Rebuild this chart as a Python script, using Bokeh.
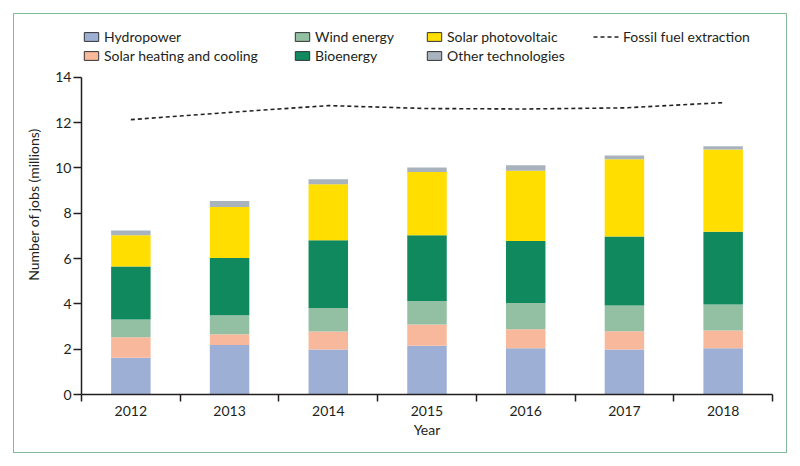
from bokeh.plotting import figure
from bokeh.models import (Range1d, FixedTicker, Legend, LegendItem, ColumnDataSource,
                          InlineStyleSheet)
from bokeh.embed import file_html
from bokeh.resources import INLINE

years = [2012, 2013, 2014, 2015, 2016, 2017, 2018]
year_labels = ["2012", "2013", "2014", "2015", "2016", "2017", "2018"]

hydropower = [1.62, 2.19, 1.99, 2.15, 2.04, 1.99, 2.04]
solar_heating = [0.91, 0.47, 0.79, 0.94, 0.84, 0.80, 0.78]
wind_energy = [0.78, 0.84, 1.04, 1.04, 1.16, 1.14, 1.15]
bioenergy = [2.34, 2.52, 2.99, 2.90, 2.73, 3.04, 3.21]
solar_pv = [1.38, 2.26, 2.47, 2.79, 3.10, 3.41, 3.63]
other_tech = [0.21, 0.26, 0.22, 0.20, 0.25, 0.17, 0.15]
fossil_fuel = [12.13, 12.45, 12.75, 12.62, 12.60, 12.65, 12.88]

y_ticks = [0, 2, 4, 6, 8, 10, 12, 14]

series_names = ["Hydropower", "Solar heating and cooling", "Wind energy",
                "Bioenergy", "Solar photovoltaic", "Other technologies"]
series_colors = ["#9eafd6", "#f8b89c", "#93bfa3", "#10895e", "#ffde00", "#a8b3bd"]
series_values = [hydropower, solar_heating, wind_energy, bioenergy, solar_pv, other_tech]

FONT = "Lato"
TXT = "#231f20"

source = ColumnDataSource(dict(year=years,
                               **{n: v for n, v in zip(series_names, series_values)}))

frame_css = InlineStyleSheet(css="""
:host { position: relative; }
:host::after {
  content: "";
  position: absolute;
  left: 13px; top: 13px; width: 772px; height: 438px;
  border: 1.5px solid #80bc9a;
  pointer-events: none;
  z-index: 1000;
}
""")

# frame spans from y=14px to the x axis; y range chosen so 0..14 maps onto the
# reference's axis extent (22.66 px per million)
p = figure(width=800, height=466, output_backend="svg", toolbar_location=None,
           x_range=Range1d(2011.5, 2018.5), y_range=Range1d(0, 16.77),
           min_border_left=81, min_border_right=28, min_border_top=14, min_border_bottom=72,
           stylesheets=[frame_css])
p.outline_line_color = None
p.xgrid.grid_line_color = None
p.ygrid.grid_line_color = None

p.vbar_stack(series_names, x="year", width=0.4, color=series_colors, line_color=None,
             source=source)

fossil_r = p.line(years, fossil_fuel, line_dash="4 3", line_width=1.6, line_color="#222222")

# hidden renderers used only for the legend swatches (dark outline as in the reference)
swatches = []
for vals, col in zip(series_values, series_colors):
    r = p.vbar(x=years, top=vals, width=0.4, fill_color=col,
               line_color="#333333", line_width=1, visible=False)
    swatches.append(r)

def add_legend(items, x, y, gw, standoff):
    lg = Legend(items=items, location=(x, y), orientation="vertical",
                spacing=2, padding=0, margin=0, glyph_width=gw, glyph_height=11,
                label_height=17, label_standoff=standoff,
                label_text_font=FONT, label_text_font_size="14px",
                label_text_color=TXT, border_line_color=None,
                background_fill_alpha=0, click_policy="none")
    p.add_layout(lg, "center")

add_legend([LegendItem(label=series_names[0], renderers=[swatches[0]]),
            LegendItem(label=series_names[1], renderers=[swatches[1]])], 1, 330, 18, 4)
add_legend([LegendItem(label=series_names[2], renderers=[swatches[2]]),
            LegendItem(label=series_names[3], renderers=[swatches[3]])], 212, 330, 18, 4)
add_legend([LegendItem(label=series_names[4], renderers=[swatches[4]]),
            LegendItem(label=series_names[5], renderers=[swatches[5]])], 344, 330, 18, 4)
add_legend([LegendItem(label="Fossil fuel extraction", renderers=[fossil_r])], 512, 349, 27, 3)

# x axis: labels at centres, tick marks at category boundaries
xa = p.xaxis[0]
xa.ticker = FixedTicker(ticks=years, minor_ticks=[y - 0.5 for y in years] + [years[-1] + 0.5])
xa.major_label_overrides = {y: l for y, l in zip(years, year_labels)}
xa.major_tick_out = 0
xa.major_tick_in = 0
xa.minor_tick_out = 7
xa.minor_tick_in = 0
xa.minor_tick_line_color = TXT
xa.minor_tick_line_width = 1.5
xa.axis_line_color = TXT
xa.axis_line_width = 1.5
xa.major_label_standoff = 4
xa.major_label_text_font = FONT
xa.major_label_text_font_size = "14px"
xa.major_label_text_color = TXT
xa.axis_label = "Year"
xa.axis_label_text_font = FONT
xa.axis_label_text_font_size = "14px"
xa.axis_label_text_font_style = "normal"
xa.axis_label_text_color = TXT
xa.axis_label_standoff = 2

ya = p.yaxis[0]
ya.ticker = FixedTicker(ticks=y_ticks, minor_ticks=[])
ya.bounds = (y_ticks[0], y_ticks[-1])
ya.major_tick_out = 8
ya.major_tick_in = 0
ya.major_tick_line_color = TXT
ya.major_tick_line_width = 1.5
ya.minor_tick_line_color = None
ya.axis_line_color = TXT
ya.axis_line_width = 1.5
ya.major_label_standoff = 2
ya.major_label_text_font = FONT
ya.major_label_text_font_size = "14px"
ya.major_label_text_color = TXT
ya.axis_label = "Number of jobs (millions)"
ya.axis_label_text_font = FONT
ya.axis_label_text_font_size = "14px"
ya.axis_label_text_font_style = "normal"
ya.axis_label_text_color = TXT
ya.axis_label_standoff = 10

open("out.html", "w").write(file_html(p, INLINE))
